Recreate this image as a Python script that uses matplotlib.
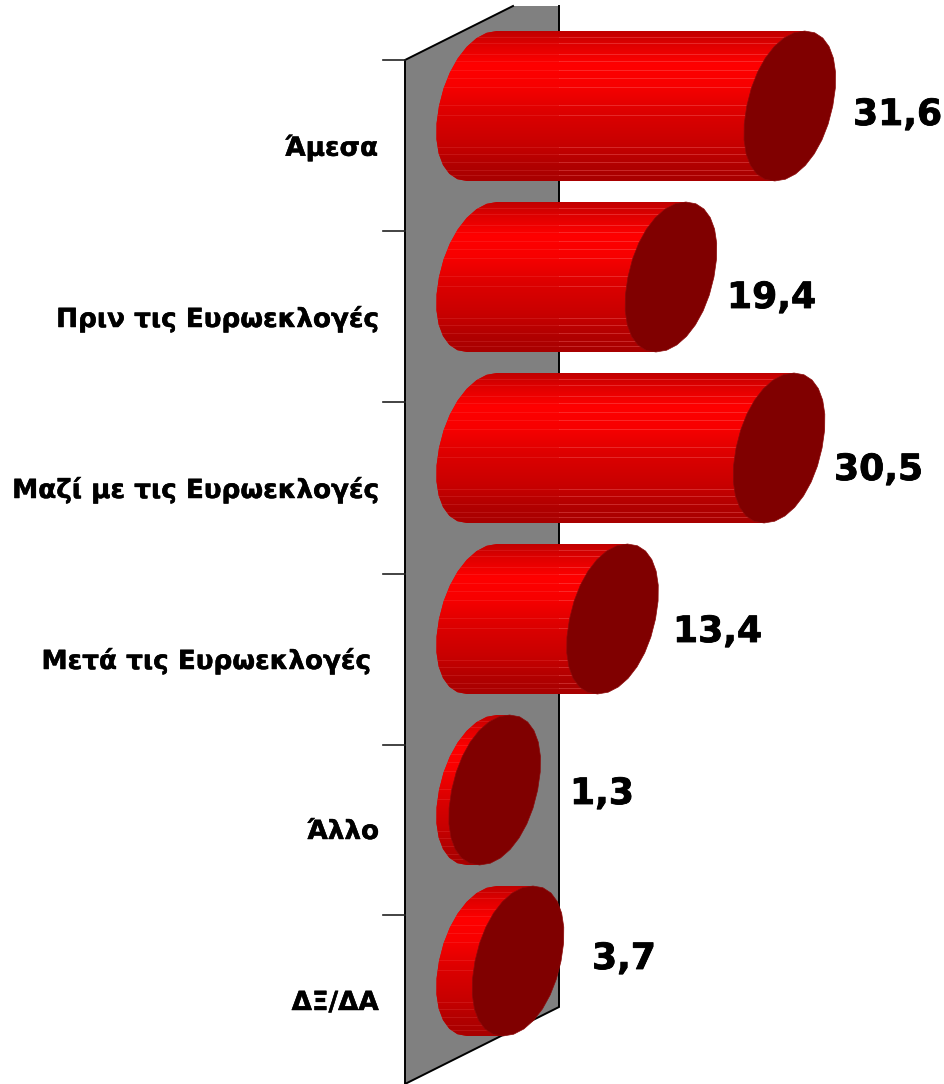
import numpy as np
import matplotlib
matplotlib.use("Agg")
import matplotlib.pyplot as plt
import matplotlib.patheffects as pe
from matplotlib.colors import LinearSegmentedColormap
from matplotlib.patches import Polygon

categories = ["Άμεσα", "Πριν τις Ευρωεκλογές", "Μαζί με τις Ευρωεκλογές",
              "Μετά τις Ευρωεκλογές", "Άλλο", "ΔΞ/ΔΑ"]
values = [31.6, 19.4, 30.5, 13.4, 1.3, 3.7]
value_labels = ["31,6", "19,4", "30,5", "13,4", "1,3", "3,7"]

# layout (pixels of the 945x1084 canvas)
PX_ZERO, PX_PER_UNIT = 482.0, 9.74
PY_FIRST, PY_STEP = 106.0, 171.0
label_right_px = [378, 379, 379, 371, 379, 379]
label_dy_px = 42
value_left_px = [853, 727, 834, 673, 570, 592]
value_cy_px = [115, 298, 470, 632, 794, 959]
tick_py = [60, 231, 402, 574, 745, 915]

def X(px):
    return (np.asarray(px, float) - PX_ZERO) / PX_PER_UNIT

def Y(py):
    return (np.asarray(py, float) - PY_FIRST) / PY_STEP

fig = plt.figure(figsize=(9.45, 10.84), dpi=100, facecolor="white")
ax = fig.add_axes([0, 0, 1, 1])
ax.set_xlim(X(0), X(945))
ax.set_ylim(Y(1084), Y(0))
ax.axis("off")

# wall
wall_px = [(405, 60), (513, 6), (559, 6), (559, 1007), (405, 1084)]
wall = np.array([(X(a), Y(b)) for a, b in wall_px])
ax.add_patch(Polygon(wall, closed=True, fc="#808080", ec="none", zorder=1))
ax.plot(wall[[2, 3, 4, 0, 1], 0], wall[[2, 3, 4, 0, 1], 1], color="black",
        lw=1.4, zorder=2, solid_joinstyle="miter", clip_on=False)
for py in tick_py:
    ax.plot(X([383, 405]), Y([py, py]), color="#222222", lw=1.2, zorder=2)

# gradient / cylinder
cmap = LinearSegmentedColormap.from_list("cyl", [
    (0.00, "#c00000"), (0.08, "#dc0000"), (0.22, "#ff0000"), (0.36, "#f80000"),
    (0.55, "#dc0000"), (0.75, "#c80000"), (0.90, "#b00000"), (1.00, "#a80000")])
grad = np.linspace(0, 1, 256).reshape(-1, 1)
seams = [0.04, 0.08, 0.155, 0.20, 0.26, 0.315, 0.375, 0.49, 0.56, 0.775,
         0.82, 0.87, 0.925, 0.96]
HW, SK, HH = 43.0, 15.0, 75.0   # ellipse half width, skew, half height (px)

def arc(cx_v, cy_i, t0, t1, n, p=1.0):
    t = np.radians(np.linspace(t0, t1, n))
    c = np.sign(np.cos(t)) * np.abs(np.cos(t)) ** p
    s = np.sign(np.sin(t)) * np.abs(np.sin(t)) ** p
    x = cx_v + (HW * c + SK * s) / PX_PER_UNIT
    y = cy_i - HH * s / PY_STEP
    return np.column_stack([x, y])

for i, (cat, v) in enumerate(zip(categories, values)):
    left = arc(0, i, 90, 270, 15, p=0.97)
    right = np.array([[v - SK / PX_PER_UNIT, i + HH / PY_STEP],
                      [v + SK / PX_PER_UNIT, i - HH / PY_STEP]])
    body = Polygon(np.vstack([left, right]), closed=True, fc="#e00000",
                   ec="none", zorder=3)
    ax.add_patch(body)
    ext = (X(430), v + 10, i + HH / PY_STEP, i - HH / PY_STEP)
    im = ax.imshow(grad, cmap=cmap, aspect="auto", extent=ext, zorder=3.1,
                   interpolation="bilinear", vmin=0, vmax=1)
    im.set_clip_path(body)
    for f in seams:
        yy = i - HH / PY_STEP + f * 2 * HH / PY_STEP
        l1, = ax.plot([X(430), X(559)], [yy, yy], color="#ff8080", lw=0.6,
                      alpha=0.18, zorder=3.2)
        l2, = ax.plot([X(559), v + 10], [yy, yy], color="#ff8080", lw=0.6,
                      alpha=0.38, zorder=3.2)
        l1.set_clip_path(body)
        l2.set_clip_path(body)
    cap = Polygon(arc(v, i, 0, 360, 29, p=0.95), closed=True, fc="#800000",
                  ec="#8c0a0a", lw=0.5, zorder=4)
    ax.add_patch(cap)

    t1 = ax.text(X(label_right_px[i]), i + label_dy_px / PY_STEP, cat, ha="right",
                 va="center", fontsize=18.9, fontweight="bold", color="black",
                 family="DejaVu Sans", zorder=5)
    t2 = ax.text(X(value_left_px[i]), Y(value_cy_px[i]), value_labels[i], ha="left",
                 va="center", fontsize=26, fontweight="bold", color="black",
                 family="DejaVu Sans", zorder=5)
    t1.set_path_effects([pe.withStroke(linewidth=0.35, foreground="black")])
    t2.set_path_effects([pe.withStroke(linewidth=0.6, foreground="black")])

ax.set_xlim(X(0), X(945))
ax.set_ylim(Y(1084), Y(0))
fig.savefig("out.png", dpi=100)
